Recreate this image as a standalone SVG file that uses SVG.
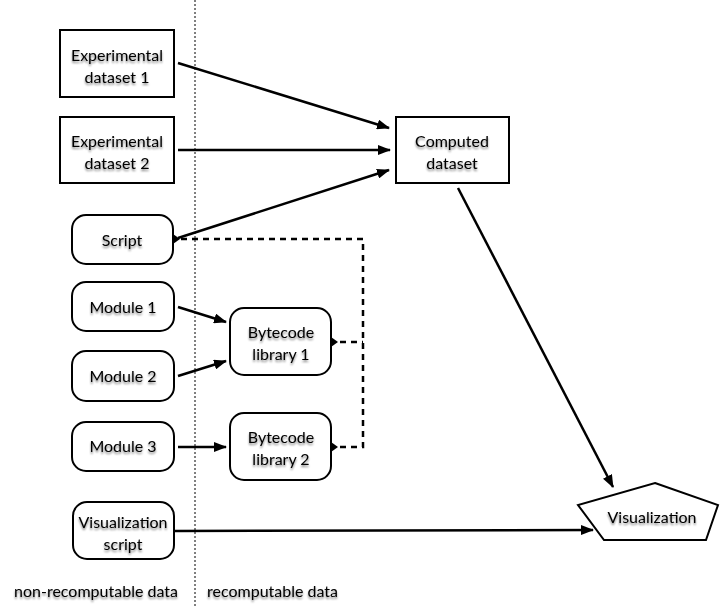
<svg xmlns="http://www.w3.org/2000/svg" width="721" height="606" viewBox="0 0 721 606">
<style>
.box{fill:#fff;stroke:#000;stroke-width:2}
.t{font-family:"Lato","Open Sans",sans-serif;font-size:16px;fill:#000;text-anchor:middle;filter:url(#sh)}
.b{font-family:"Lato","Open Sans",sans-serif;font-size:16px;fill:#000;filter:url(#sh)}
.e{stroke:#000;stroke-width:2.5;fill:none}
.d{stroke:#000;stroke-width:2.5;fill:none;stroke-dasharray:6,5}
</style>
<defs>
<marker id="ah" markerWidth="13" markerHeight="10" refX="12" refY="5" orient="auto" markerUnits="userSpaceOnUse" viewBox="0 0 13 10">
<path d="M0,0 L13,5 L0,10 z" fill="#000"/>
</marker>
<filter id="sh" x="-10%" y="-20%" width="120%" height="150%">
<feGaussianBlur in="SourceAlpha" stdDeviation="1"/>
<feOffset dx="0" dy="1.5" result="o"/>
<feComponentTransfer><feFuncA type="linear" slope="0.5"/></feComponentTransfer>
<feMerge><feMergeNode/><feMergeNode in="SourceGraphic"/></feMerge>
</filter>
</defs>
<rect width="721" height="606" fill="#fff"/>
<line x1="195" y1="0" x2="195" y2="606" stroke="#000" stroke-width="1" stroke-dasharray="2,2"/>
<g id="connectors">
<line class="e" x1="178" y1="63" x2="389" y2="128" marker-end="url(#ah)"/>
<line class="e" x1="178" y1="150" x2="390" y2="150" marker-end="url(#ah)"/>
<line class="e" x1="178" y1="238" x2="389" y2="170" marker-end="url(#ah)"/>
<polyline class="d" points="181,239 363,239 363,447 340,447"/>
<line class="d" x1="340" y1="342" x2="363" y2="342"/>
<path d="M173,234 L180,239 L173,244 z" fill="#000"/>
<path d="M331,337 L338,342 L331,347 z" fill="#000"/>
<path d="M331,442 L338,447 L331,452 z" fill="#000"/>
<line class="e" x1="178" y1="307" x2="226" y2="322" marker-end="url(#ah)"/>
<line class="e" x1="178" y1="376" x2="226" y2="361" marker-end="url(#ah)"/>
<line class="e" x1="178" y1="447" x2="226" y2="447" marker-end="url(#ah)"/>
<line class="e" x1="458" y1="188" x2="613" y2="487" marker-end="url(#ah)"/>
<line class="e" x1="174" y1="531" x2="593" y2="530" marker-end="url(#ah)"/>
</g>
<g id="exp1"><rect class="box" x="60" y="30" width="114" height="67"/><text class="t" x="117" y="61">Experimental</text><text class="t" x="117" y="83">dataset 1</text></g>
<g id="exp2"><rect class="box" x="60" y="117" width="114" height="66"/><text class="t" x="117" y="147">Experimental</text><text class="t" x="117" y="169">dataset 2</text></g>
<g id="script"><rect class="box" x="72" y="215" width="101" height="49" rx="14"/><text class="t" x="122" y="246">Script</text></g>
<g id="mod1"><rect class="box" x="72" y="282" width="102" height="49" rx="14"/><text class="t" x="123" y="313">Module 1</text></g>
<g id="mod2"><rect class="box" x="72" y="351" width="102" height="50" rx="14"/><text class="t" x="123" y="382">Module 2</text></g>
<g id="mod3"><rect class="box" x="72" y="422" width="102" height="49" rx="14"/><text class="t" x="123" y="452">Module 3</text></g>
<g id="visscript"><rect class="box" x="73" y="502" width="101" height="57" rx="14"/><text class="t" x="123" y="528">Visualization</text><text class="t" x="123" y="550">script</text></g>
<g id="lib1"><rect class="box" x="230" y="308" width="101" height="67" rx="14"/><text class="t" x="281" y="338">Bytecode</text><text class="t" x="281" y="360">library 1</text></g>
<g id="lib2"><rect class="box" x="230" y="413" width="101" height="67" rx="14"/><text class="t" x="281" y="443">Bytecode</text><text class="t" x="281" y="465">library 2</text></g>
<g id="computed"><rect class="box" x="396" y="117" width="113" height="66"/><text class="t" x="452" y="147">Computed</text><text class="t" x="452" y="169">dataset</text></g>
<g id="vis"><polygon class="box" points="655,483 718,505 706,540 604,540 578,505"/><text class="t" x="652" y="523">Visualization</text></g>
<text class="t" x="96" y="597">non-recomputable data</text>
<text class="b" x="207" y="597">recomputable data</text>
</svg>
